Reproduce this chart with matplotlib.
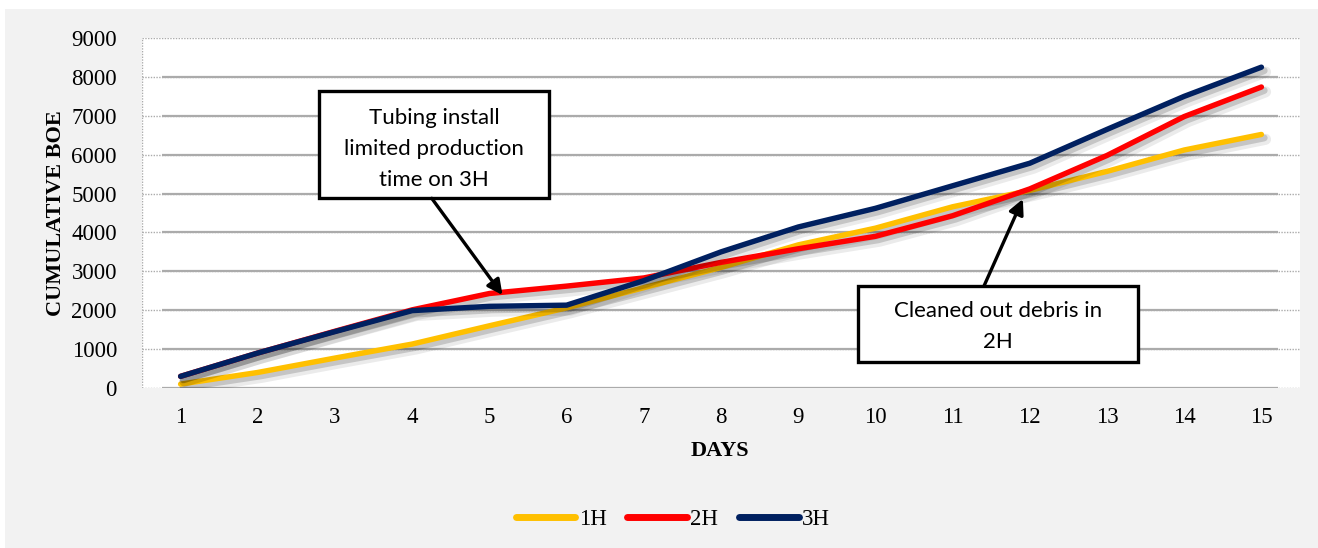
import matplotlib
matplotlib.use("Agg")
import matplotlib.pyplot as plt
import matplotlib.patheffects as pe
from matplotlib.patches import Rectangle
from matplotlib.lines import Line2D

# Cumulative BOE per well over the first 15 days
days = list(range(1, 16))
well_1h = [100, 400, 770, 1130, 1600, 2060, 2580, 3100, 3680, 4110, 4660, 5080, 5570, 6120, 6520]
well_2h = [300, 900, 1460, 2010, 2430, 2620, 2830, 3230, 3580, 3900, 4430, 5120, 5980, 6980, 7740]
well_3h = [300, 900, 1450, 1990, 2100, 2130, 2760, 3500, 4140, 4620, 5200, 5780, 6650, 7500, 8250]
series_names = ["1H", "2H", "3H"]
series_colors = ["#FFC000", "#FF0000", "#002060"]
y_ticks = list(range(0, 9001, 1000))

serif = "Liberation Serif"
sans = "Lato"

fig = plt.figure(figsize=(13.18, 5.48), dpi=100)
fig.patch.set_facecolor("white")
# light grey chart area with a thin white margin at top/left
fig.add_artist(Rectangle((5 / 1318, 0), 1 - 5 / 1318, 1 - 9 / 548,
                         transform=fig.transFigure, facecolor="#F2F2F2",
                         edgecolor="none", zorder=-10))

ax = fig.add_axes([142 / 1318, 1 - 388 / 548, (1300 - 142) / 1318, 350 / 548])
ax.set_facecolor("white")
ax.set_xlim(0.5, 15.5)
ax.set_ylim(0, 9000)
for s in ax.spines.values():
    s.set_visible(False)

# plot-area border (dotted) and gridlines
grid_c = "#ABABAB"
ax.hlines(y_ticks, 0.5, 15.5, colors=grid_c, linestyles=(0, (1, 1)), lw=1.0, zorder=1)
ax.vlines([0.5], 0, 9000, colors=grid_c, linestyles=(0, (1, 1)), lw=1.0, zorder=1)
ax.hlines(y_ticks[:-1], 0.76, 15.22, colors=grid_c, lw=1.6, zorder=1)

ax.set_yticks(y_ticks)
ax.set_xticks(days)
ax.tick_params(axis="both", length=0, labelsize=16.5)
ax.tick_params(axis="y", pad=18)
ax.tick_params(axis="x", pad=14)
for lab in ax.get_xticklabels() + ax.get_yticklabels():
    lab.set_fontfamily(serif)

shadow = [pe.SimpleLineShadow(offset=(3, -3.5), shadow_color="#000000", alpha=0.08, linewidth=8),
          pe.SimpleLineShadow(offset=(2, -2.5), shadow_color="#000000", alpha=0.16, linewidth=5),
          pe.Normal()]
for vals, name, col in zip([well_1h, well_2h, well_3h], series_names, series_colors):
    ax.plot(days, vals, color=col, lw=3.9, solid_capstyle="round",
            solid_joinstyle="round", label=name, zorder=3, path_effects=shadow)

fig.text(720 / 1318, 1 - 451 / 548, "DAYS", ha="center", va="center",
         fontfamily=serif, fontweight="bold", fontsize=16)
fig.text(56 / 1318, 1 - 213 / 548, "CUMULATIVE BOE", ha="center", va="center",
         rotation=90, fontfamily=serif, fontweight="bold", fontsize=16)

# annotation callouts
def callout(x0, y0, x1, y1, text, tx, ty, start, tip):
    ax.add_patch(Rectangle((x0, y1), x1 - x0, y0 - y1, transform=ax.transAxes,
                           facecolor="white", edgecolor="black", lw=2.4, zorder=5,
                           clip_on=False))
    ax.text(tx, ty, text, transform=ax.transAxes, ha="center", va="center",
            fontfamily=sans, fontsize=16, linespacing=1.68, zorder=6)
    ax.annotate("", xy=tip, xycoords="data", xytext=start, textcoords="axes fraction",
                arrowprops=dict(arrowstyle="-|>,head_length=0.9,head_width=0.45",
                                color="black", lw=2.4, shrinkA=0, shrinkB=0),
                zorder=6)

callout(0.1528, 0.8486, 0.3515, 0.5429, "Tubing install\nlimited production\ntime on 3H",
        0.2522, 0.6829, (0.2502, 0.5420), (5.17, 2390))
callout(0.6183, 0.2914, 0.8601, 0.0743, "Cleaned out debris in\n2H",
        0.739, 0.175, (0.7271, 0.2914), (11.91, 4860))

handles = [Line2D([], [], color=c, lw=5, solid_capstyle="round") for c in series_colors]
leg = fig.legend(handles, series_names, loc="center", bbox_to_anchor=(673 / 1318, 1 - 519 / 548),
                 ncol=3, frameon=False, handlelength=2.6, handletextpad=0.15,
                 columnspacing=0.9, prop={"family": serif, "size": 16.5})

fig.savefig("out.png", dpi=100, facecolor=fig.get_facecolor())
